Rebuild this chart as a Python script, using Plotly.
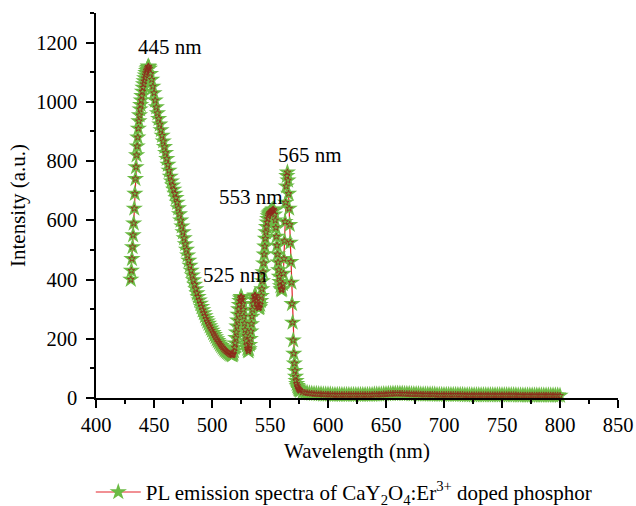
import numpy as np
import plotly.graph_objects as go

# ---------------- data ----------------
# rising edge of 445 nm band (430-446 nm, 0.5 nm steps)
wl_rise = np.arange(430.0, 446.01, 0.5)
int_rise = [400, 430, 470, 510, 550, 590, 640, 690, 740, 780, 820, 850, 880, 910,
            935, 955, 975, 990, 1005, 1020, 1035, 1048, 1060, 1070, 1080, 1090,
            1098, 1105, 1110, 1115, 1120, 1118, 1112]

# falling edge of 445 nm band (447-517 nm, 1 nm steps)
wl_fall = np.arange(447.0, 517.01, 1.0)
int_fall = [1095, 1075, 1052, 1030, 1005, 982, 962, 943, 924, 905, 886, 867, 848,
            828, 808, 788, 768, 748, 732, 718, 704, 690, 676, 660, 641, 621, 600,
            580, 560, 540, 520, 501, 482, 464, 447, 430, 414, 398, 383, 368, 354,
            342, 330, 319, 308, 297, 287, 277, 267, 259, 251, 243, 235, 228, 220,
            213, 206, 199, 193, 187, 181, 176, 171, 166, 162, 158, 155, 152, 149,
            147, 146]

# Er3+ green emission region (517.5-576 nm, 0.5 nm steps)
wl_green = np.arange(517.5, 576.01, 0.5)
int_green = [145, 146, 150, 158, 170, 185, 203, 222, 242, 262, 282, 300, 315, 328,
             337, 342, 340, 332, 318, 298, 275, 252, 230, 210, 192, 178, 167, 160,
             158, 165, 180, 200, 225, 250, 275, 298, 318, 333, 343, 347, 345, 338,
             328, 318, 310, 305, 304, 307, 315, 328, 345, 368, 395, 425, 455, 485,
             512, 538, 560, 578, 593, 605, 614, 620, 624, 626, 628, 630, 632, 634,
             636, 637, 632, 620, 600, 575, 545, 515, 485, 458, 432, 410, 392, 378,
             368, 364, 368, 385, 420, 470, 530, 595, 660, 715, 750, 762, 735, 690,
             640, 585, 525, 460, 390, 318, 255, 195, 150, 117, 92, 72, 58, 48, 41,
             36, 32, 29, 27, 25]

# tail (578-800 nm, 2 nm steps)
wl_tail = np.arange(578.0, 800.01, 2.0)
int_tail = [20, 18, 17, 16, 15, 14, 14, 13, 13, 12, 12, 12,
            12, 11, 11, 11, 11, 11, 11, 11, 11, 11, 11, 11, 11, 11, 11, 11, 11, 11,
            11, 12, 12, 12, 12, 13, 13,
            14, 14, 15, 15, 15, 15, 15, 14, 14, 14, 13, 13, 13, 13, 12, 12, 12, 12,
            12, 12, 12, 11, 11, 11, 11,
            11, 11, 11, 11, 11, 11, 11, 11, 10, 10, 10, 10, 10, 10, 10, 10, 10, 10,
            10, 10, 10, 10, 10, 10, 10,
            10, 10, 10, 10, 10, 10, 9, 9, 9, 9, 9, 9, 9, 9, 9, 9, 9, 9,
            9, 9, 9, 9, 9, 9, 8]

peak_labels = ["445 nm", "525 nm", "553 nm", "565 nm"]
label_x = [463.5, 519.5, 533.5, 584.5]
label_y = [1185, 415, 679, 820]

x_ticks = [400, 450, 500, 550, 600, 650, 700, 750, 800, 850]
y_ticks = [0, 200, 400, 600, 800, 1000, 1200]

series_name = "PL emission spectra of CaY<sub>2</sub>O<sub>4</sub>:Er<sup>3+</sup> doped phosphor"

wavelength = np.concatenate([wl_rise, wl_fall, wl_green, wl_tail])
intensity = np.array(int_rise + int_fall + int_green + int_tail, dtype=float)

# ---------------- figure ----------------
FONT = "Liberation Serif"
GREEN = "#6cbb45"
RED = "#e3232b"
TXT = 21
TICK = 20.5

fig = go.Figure()
fig.add_trace(go.Scatter(
    x=wavelength, y=intensity, mode="lines+markers", name=series_name,
    line=dict(color=RED, width=1.2),
    marker=dict(symbol="star", size=13, color=GREEN, line=dict(width=0)),
    cliponaxis=False,
))
fig.add_trace(go.Scatter(
    x=wavelength, y=intensity, mode="markers", showlegend=False,
    marker=dict(symbol="star-open", size=5, color="#8e2a1c", line=dict(width=0.8)),
    hoverinfo="skip", cliponaxis=False,
))

for t, xx, yy in zip(peak_labels, label_x, label_y):
    fig.add_annotation(x=xx, y=yy, text=t, showarrow=False,
                       font=dict(family=FONT, size=TXT, color="black"))

axis_common = dict(
    showgrid=False, zeroline=False, showline=True, linecolor="black", linewidth=1.5,
    ticks="outside", ticklen=8, tickwidth=1.5, tickcolor="black",
    tickfont=dict(family=FONT, size=TICK, color="black"), automargin=False,
)

fig.update_xaxes(
    range=[400, 850], tickvals=x_ticks,
    minor=dict(dtick=25, tick0=400, ticks="outside", ticklen=4, tickwidth=1.5, tickcolor="black"),
    title=dict(text="Wavelength (nm)", font=dict(family=FONT, size=TXT, color="black"), standoff=8),
    **axis_common,
)
fig.update_yaxes(
    range=[0, 1300], tickvals=y_ticks, ticklabelstandoff=5,
    minor=dict(dtick=100, tick0=0, ticks="outside", ticklen=4, tickwidth=1.5, tickcolor="black"),
    title=dict(text="Intensity (a.u.)", font=dict(family=FONT, size=TXT, color="black"), standoff=5),
    **axis_common,
)

fig.update_layout(
    width=636, height=506,
    margin=dict(l=96, r=18, t=13, b=108, autoexpand=False),
    paper_bgcolor="white", plot_bgcolor="white",
    font=dict(family=FONT, size=TXT, color="black"),
    legend=dict(orientation="h", x=-0.01, xanchor="left", y=-0.245, yanchor="middle",
                itemwidth=45, font=dict(family=FONT, size=TXT, color="black"),
                bgcolor="rgba(0,0,0,0)"),
)

fig.write_html("out.html", config={"displayModeBar": False},
               post_script="document.body.style.margin='0';document.body.style.overflow='hidden';")
